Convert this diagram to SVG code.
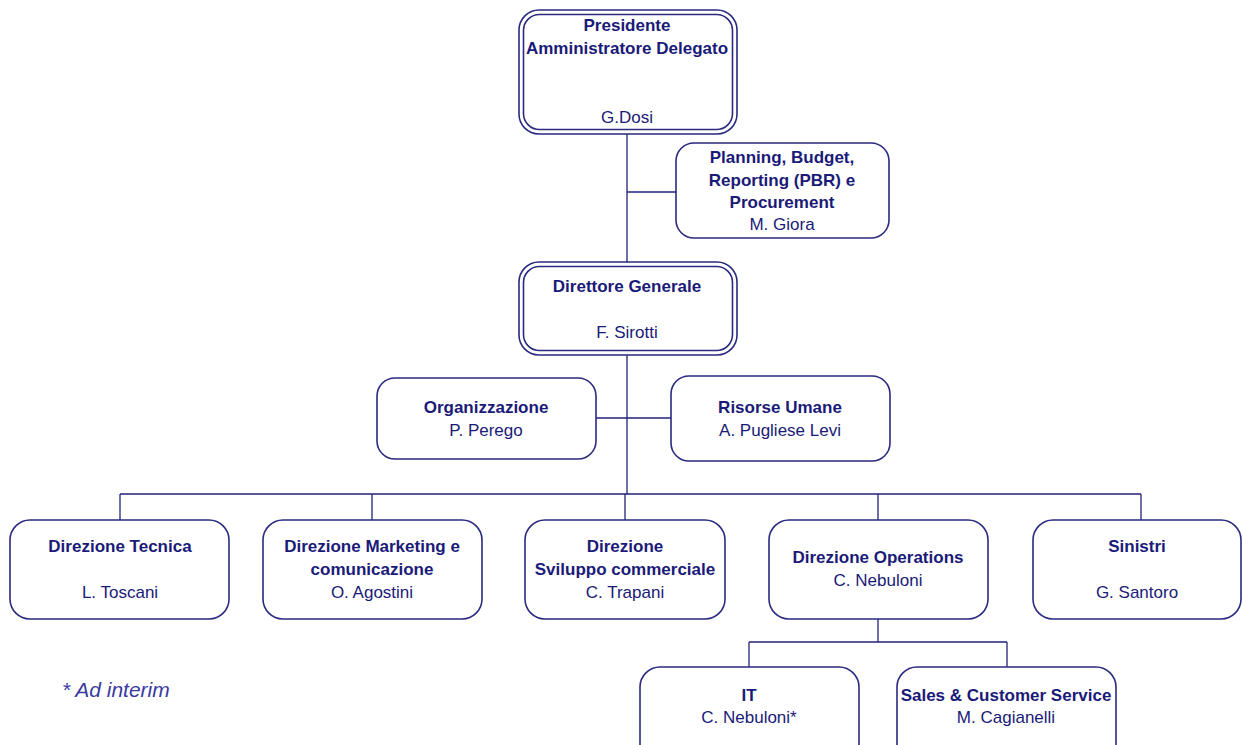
<svg xmlns="http://www.w3.org/2000/svg" width="1242" height="745" viewBox="0 0 1242 745">
<style>
.box{fill:#fff;stroke:#2a2a80;stroke-width:1.6}
.in{fill:none;stroke:#2a2a80;stroke-width:1.6}
.ln{fill:none;stroke:#22227a;stroke-width:1.3}
text{font-family:"Liberation Sans",Arial,sans-serif;font-size:17px;fill:#1a1a78;text-anchor:middle}
.b{font-weight:bold}
.note{font-style:italic;fill:#3a3aa0;text-anchor:start;font-size:21px}
</style>
<rect width="1242" height="745" fill="#fff"/>
<g id="connectors">
<path class="ln" d="M627 134V263M627 192H676M627 355V494M596 418H671M120 494H1141M120 494V520M372 494V520M625 494V520M878 494V520M1141 494V520M878 619V642M749 642H1007M749 642V667M1007 642V667"/>
</g>
<g id="presidente">
<rect class="box" x="519" y="10" width="218" height="124" rx="20"/>
<rect class="in" x="523.5" y="14.5" width="209" height="115" rx="16"/>
<text class="b" x="627" y="31">Presidente</text>
<text class="b" x="627" y="54">Amministratore Delegato</text>
<text x="627" y="123">G.Dosi</text>
</g>
<g id="pbr">
<rect class="box" x="676" y="143" width="213" height="95" rx="18"/>
<text class="b" x="782" y="163">Planning, Budget,</text>
<text class="b" x="782" y="186">Reporting (PBR) e</text>
<text class="b" x="782" y="208">Procurement</text>
<text x="782" y="230">M. Giora</text>
</g>
<g id="direttore">
<rect class="box" x="519" y="262" width="218" height="93" rx="20"/>
<rect class="in" x="523.5" y="266.5" width="209" height="84" rx="16"/>
<text class="b" x="627" y="292">Direttore Generale</text>
<text x="627" y="338">F. Sirotti</text>
</g>
<g id="organizzazione">
<rect class="box" x="377" y="378" width="219" height="81" rx="18"/>
<text class="b" x="486" y="413">Organizzazione</text>
<text x="486" y="436">P. Perego</text>
</g>
<g id="risorse">
<rect class="box" x="671" y="376" width="219" height="85" rx="18"/>
<text class="b" x="780" y="413">Risorse Umane</text>
<text x="780" y="436">A. Pugliese Levi</text>
</g>
<g id="tecnica">
<rect class="box" x="10" y="520" width="219" height="99" rx="20"/>
<text class="b" x="120" y="552">Direzione Tecnica</text>
<text x="120" y="598">L. Toscani</text>
</g>
<g id="marketing">
<rect class="box" x="263" y="520" width="219" height="99" rx="20"/>
<text class="b" x="372" y="552">Direzione Marketing e</text>
<text class="b" x="372" y="575">comunicazione</text>
<text x="372" y="598">O. Agostini</text>
</g>
<g id="sviluppo">
<rect class="box" x="525" y="520" width="200" height="99" rx="20"/>
<text class="b" x="625" y="552">Direzione</text>
<text class="b" x="625" y="575">Sviluppo commerciale</text>
<text x="625" y="598">C. Trapani</text>
</g>
<g id="operations">
<rect class="box" x="769" y="520" width="219" height="99" rx="20"/>
<text class="b" x="878" y="563">Direzione Operations</text>
<text x="878" y="586">C. Nebuloni</text>
</g>
<g id="sinistri">
<rect class="box" x="1033" y="520" width="208" height="99" rx="20"/>
<text class="b" x="1137" y="552">Sinistri</text>
<text x="1137" y="598">G. Santoro</text>
</g>
<g id="it">
<rect class="box" x="640" y="667" width="219" height="99" rx="20"/>
<text class="b" x="749" y="701">IT</text>
<text x="749" y="723">C. Nebuloni*</text>
</g>
<g id="sales">
<rect class="box" x="897" y="667" width="219" height="99" rx="20"/>
<text class="b" x="1006" y="701">Sales &amp; Customer Service</text>
<text x="1006" y="723">M. Cagianelli</text>
</g>
<text class="note" x="62" y="697">* Ad interim</text>
</svg>
